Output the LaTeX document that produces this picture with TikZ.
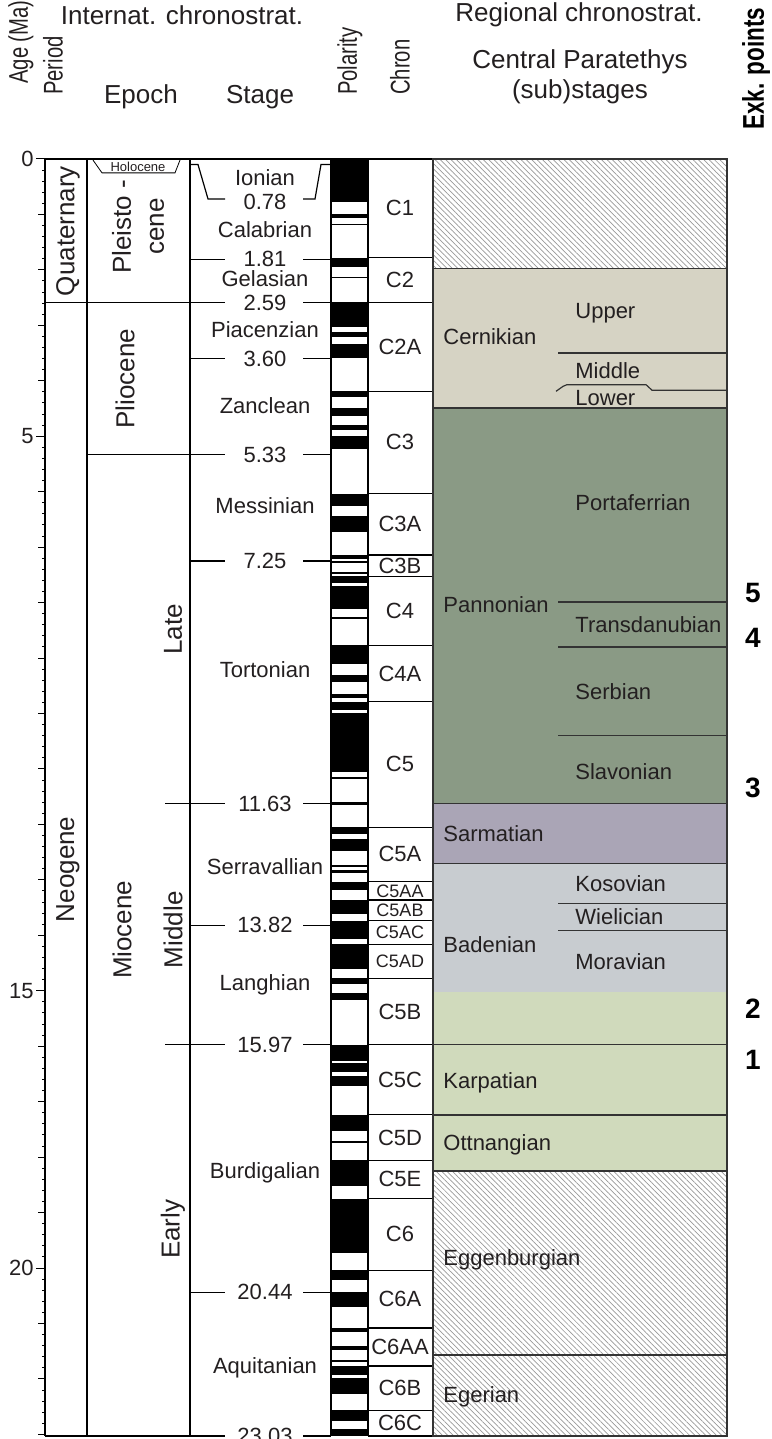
\documentclass[tikz,border=0pt]{standalone}
\usepackage{fontspec}
\setmainfont{Liberation Sans}
\newfontfamily\narrowsans[FakeStretch=0.75]{Liberation Sans}
\usetikzlibrary{patterns.meta}

\definecolor{inkgray}{HTML}{231F20}
\definecolor{cernikian}{HTML}{D6D3C4}
\definecolor{pannonian}{HTML}{8A9A85}
\definecolor{sarmatian}{HTML}{AAA5B6}
\definecolor{badenian}{HTML}{C8CCD0}
\definecolor{karpatian}{HTML}{D0DABC}

\begin{document}
\begin{tikzpicture}[x=0.5pt,y=-27.725pt,
 every node/.style={font=\fontsize{11}{13}\selectfont,text=inkgray,inner sep=0pt},
 grid/.style={line width=0.6pt,draw=black},
 reg/.style={line width=0.6pt,draw=black!80},
 hatch/.style={pattern={Lines[angle=-45,distance=1.9pt,line width=0.35pt]},pattern color=black!40},
 hdr/.style={font=\fontsize{13}{15}\selectfont},
 vhdr/.style={font=\narrowsans\fontsize{13.5}{15}\selectfont,rotate=90,anchor=west},
 vlbl/.style={font=\fontsize{13}{16.5}\selectfont,rotate=90,align=center},
 sub/.style={anchor=west},
 exk/.style={font=\fontsize{14}{16}\selectfont\bfseries,text=black}]
\useasboundingbox (0,-2.8675) rectangle (771,23.0839);

% header
\node[vhdr] (agehead) at (21,-1.35) {Age (Ma)};
\node[hdr] (intlhead) at (182,-2.6) {Internat. chronostrat.};
\node[vhdr] (periodhead) at (53,-1.15) {Period};
\node[hdr] (epochhead) at (141,-1.12) {Epoch};
\node[hdr] (stagehead) at (260,-1.12) {Stage};
\node[vhdr] (polhead) at (350,-1.15) {Polarity};
\node[vhdr] (chronhead) at (400,-1.15) {Chron};
\node[hdr] (reghead) at (579,-2.6) {Regional chronostrat.};
\node[hdr,align=center,font=\fontsize{13}{15}\selectfont] (cphead) at (580,-1.48) {Central Paratethys\\(sub)stages};
\node[vhdr,font=\narrowsans\fontsize{15}{17}\selectfont\bfseries,text=black] (exkhead) at (756,-0.52) {Exk. points};

% age axis
\draw[grid] (45,0) -- (45,23.03);
\foreach \i in {0,...,115} \draw[line width=0.5pt] (42,\i/5) -- (45,\i/5);
\foreach \i in {0,...,23} \draw[line width=0.5pt] (38,\i) -- (45,\i);
\foreach \i in {0,5,15,20}{
  \draw[line width=0.5pt] (36,\i) -- (45,\i);
  \node[anchor=east] (tick\i) at (34,\i) {\i};
}

% column frame
\draw[grid] (45,0) -- (433,0);
\foreach \x in {87,190,331,368,433} \draw[grid] (\x,0) -- (\x,23.03);

% period and epoch
\node[vlbl] (quaternary) at (68,1.3) {Quaternary};
\node[vlbl] (neogene) at (68,12.81) {Neogene};
\draw[line width=0.4pt] (93,0.02) -- (102,0.25) -- (175,0.25) -- (180,0.02);
\node[font=\fontsize{6.5}{7}\selectfont] (holocene) at (138,0.135) {Holocene};
\node[vlbl] (pleistocene) at (138,1.22) {Pleisto -\\cene};
\node[vlbl] (pliocene) at (125,3.96) {Pliocene};
\node[vlbl] (miocene) at (122,13.9) {Miocene};
\node[vlbl] (late) at (173,8.48) {Late};
\node[vlbl] (middle) at (173,13.9) {Middle};
\node[vlbl] (early) at (173,19.3) {Early};

% stages
\draw[grid] (190,0.1) -- (198,0.1) -- (208,0.72) -- (225,0.72);
\draw[grid] (303,0.72) -- (315,0.72) -- (321,0.1) -- (331,0.1);
\node (b0) at (265,0.78) {0.78};
\foreach \a/\x [count=\i] in {1.81/190,2.59/45,3.60/190,5.33/87,7.25/190,11.63/165,13.82/190,15.97/165,20.44/190,23.03/45}{
  \draw[grid] (\x,\a) -- (225,\a) (303,\a) -- (331,\a);
  \node (b\i) at (265,\a) {\a};
}
\foreach \a/\t in {0.34/Ionian,1.27/Calabrian,2.15/Gelasian,3.08/Piacenzian,4.44/Zanclean,6.26/Messinian,9.2/Tortonian,12.77/Serravallian,14.9/Langhian,18.29/Burdigalian,21.8/Aquitanian}
  \node (\t) at (265,\a) {\t};

% polarity (black = normal)
\foreach \a/\b in {0/0.781,0.988/1.072,1.173/1.185,1.778/1.945,2.128/2.148,2.581/3.032,3.116/3.207,3.330/3.596,
  4.187/4.300,4.493/4.631,4.799/4.896,4.997/5.235,6.033/6.252,6.436/6.733,7.140/7.212,7.251/7.285,7.454/7.489,
  7.528/7.642,7.695/8.108,8.254/8.300,8.771/9.105,9.311/9.426,9.647/9.721,9.786/9.937,9.984/11.056,11.146/11.188,
  11.592/11.657,12.049/12.174,12.272/12.474,12.735/12.770,12.820/12.878,13.032/13.183,13.363/13.608,13.739/14.070,
  14.163/14.609,14.775/14.870,15.032/15.160,15.974/16.268,16.303/16.472,16.543/16.721,17.235/17.533,17.717/17.740,
  18.056/18.524,18.748/19.722,20.040/20.213,20.439/20.709,21.083/21.159,21.403/21.483,21.659/21.688,21.767/21.936,
  21.992/22.268,22.564/22.754,22.902/23.03}
  \fill[black] (331,\a) rectangle (368,\b);
\draw[grid] (331,0) -- (331,23.03) (368,0) -- (368,23.03);

% chrons
\foreach \a/\b/\t in {0/1.778/C1,1.778/2.581/C2,2.581/4.187/C2A,4.187/6.033/C3,6.033/7.14/C3A,7.14/7.528/C3B,
  7.528/8.771/C4,8.771/9.786/C4A,9.786/12.049/C5,12.049/13.032/C5A,14.775/15.974/C5B,15.974/17.235/C5C,
  17.235/18.056/C5D,18.056/18.748/C5E,18.748/20.04/C6,20.04/21.083/C6A,21.083/21.767/C6AA,21.767/22.564/C6B,22.564/23.03/C6C}{
  \draw[grid] (368,\b) -- (433,\b);
  \node (\t) at (400,{(\a+\b)/2}) {\t};
}
\foreach \a/\b/\t in {13.032/13.363/C5AA,13.363/13.739/C5AB,13.739/14.163/C5AC,14.163/14.775/C5AD}{
  \draw[grid] (368,\b) -- (433,\b);
  \node[font=\fontsize{9}{10}\selectfont] (\t) at (400,{(\a+\b)/2}) {\t};
}

% regional chronostratigraphy
\fill[white] (433,0) rectangle (727,23.03);
\path[hatch] (433,0) rectangle (727,1.98);
\fill[cernikian] (433,1.98) rectangle (727,4.49);
\fill[pannonian] (433,4.49) rectangle (727,11.63);
\fill[sarmatian] (433,11.63) rectangle (727,12.7);
\fill[badenian] (433,12.7) rectangle (727,15.02);
\fill[karpatian] (433,15.02) rectangle (727,18.25);
\path[hatch] (433,18.25) rectangle (727,23.03);
\foreach \a in {1.98,4.49,11.63,12.7,15.97,17.24,18.25,21.57} \draw[reg] (433,\a) -- (727,\a);
\foreach \a in {3.5,7.99,8.8,10.4,13.42,13.92} \draw[reg] (558,\a) -- (727,\a);
\draw[reg] (556,4.19) -- (563,4.1) -- (567,4.07) -- (646,4.07) -- (652,4.17) -- (727,4.17);
\draw[reg] (433,0) rectangle (727,23.03);

\foreach \a/\t in {3.21/Cernikian,8.04/Pannonian,12.16/Sarmatian,14.17/Badenian,16.66/Karpatian,
  17.78/Ottnangian,19.86/Eggenburgian,22.33/Egerian}
  \node[sub] (\t) at (443,\a) {\t};
\foreach \a/\t in {2.78/Upper,3.81/Middle,4.31/Lower,6.2/Portaferrian,8.4/Transdanubian,9.61/Serbian,
  11.05/Slavonian,13.06/Kosovian,13.67/Wielician,14.48/Moravian}
  \node[sub] (sub\t) at (575,\a) {\t};

% excursion points
\foreach \a/\n in {7.83/5,8.64/4,11.34/3,15.33/2,16.25/1}
  \node[exk] (exk\n) at (753,\a) {\n};
\end{tikzpicture}
\end{document}
